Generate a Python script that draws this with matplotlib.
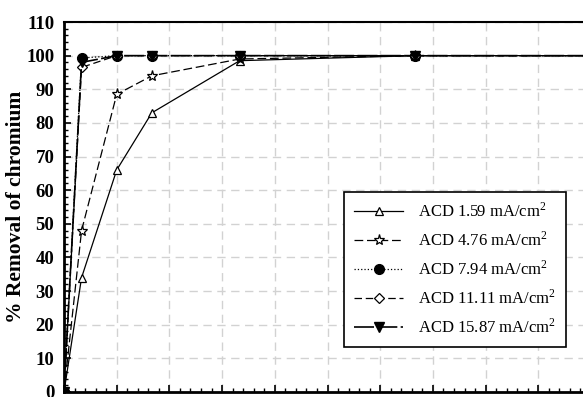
import numpy as np
import matplotlib
matplotlib.use("Agg")
import matplotlib.pyplot as plt
from matplotlib.ticker import MultipleLocator

# temps (min) et % d'elimination du chrome
temps = [0, 10, 30, 50, 100, 200, 400]
acd_159 = [0, 34, 66, 83, 98.5, 100, 100]
acd_476 = [0, 48, 88.5, 94, 99, 100, 100]
acd_794 = [0, 99.3, 100, 100, 100, 100, 100]
acd_1111 = [0, 96.5, 100, 100, 100, 100, 100]
acd_1587 = [0, 98, 100, 100, 100, 100, 100]

labels = ["ACD 1.59 mA/cm$^\\mathregular{2}$", "ACD 4.76 mA/cm$^\\mathregular{2}$",
          "ACD 7.94 mA/cm$^\\mathregular{2}$", "ACD 11.11 mA/cm$^\\mathregular{2}$",
          "ACD 15.87 mA/cm$^\\mathregular{2}$"]

plt.rcParams['font.family'] = ['Liberation Serif', 'DejaVu Serif']
plt.rcParams['mathtext.fontset'] = 'stix'

fig = plt.figure(figsize=(5.83, 3.97), dpi=100)
ax = fig.add_axes([64 / 583, 5 / 397, 519 / 583, 370 / 397])

ax.plot(temps, acd_159, color='k', lw=0.9, ls='-', marker='^', ms=6,
        mfc='white', mec='k', mew=0.9, label=labels[0])
ax.plot(temps, acd_476, color='k', lw=0.9, ls=(0, (7, 3)), marker='*', ms=8,
        mfc='white', mec='k', mew=0.9, label=labels[1])
ax.plot(temps, acd_794, color='k', lw=0.9, ls=':', marker='o', ms=7,
        mfc='k', mec='k', label=labels[2])
ax.plot(temps, acd_1111, color='k', lw=0.9, ls=(0, (6, 3)), marker='D', ms=5.5,
        mfc='white', mec='k', mew=0.9, label=labels[3])
ax.plot(temps, acd_1587, color='k', lw=1.2, ls=(0, (12, 2)), marker='v', ms=6.5,
        mfc='k', mec='k', label=labels[4])

ax.set_xlim(0, 519 / 52.7 * 30)
ax.set_ylim(0, 110)
ax.xaxis.set_major_locator(MultipleLocator(30))
ax.xaxis.set_minor_locator(MultipleLocator(6))
ax.yaxis.set_major_locator(MultipleLocator(10))
ax.yaxis.set_minor_locator(MultipleLocator(2))
ax.tick_params(which='both', direction='in', colors='k')
ax.tick_params(which='major', length=5, width=1.2)
ax.tick_params(which='minor', length=3, width=1)
ax.tick_params(axis='x', labelbottom=False)
ax.tick_params(axis='y', labelsize=13.5, pad=7)
for lab in ax.get_yticklabels():
    lab.set_fontweight('bold')

ax.grid(True, which='major', color='#d2d2d2', ls=(0, (6, 4)), lw=1)
ax.set_axisbelow(True)

ax.spines['right'].set_visible(False)
ax.spines['left'].set_linewidth(2)
ax.spines['bottom'].set_linewidth(2)
ax.spines['top'].set_linewidth(1.5)

ax.set_ylabel('% Removal of chromium', fontsize=15.5, fontweight='bold', labelpad=0)

leg = ax.legend(loc='upper left', bbox_to_anchor=(336 / 583, 1 - 184 / 397),
                bbox_transform=fig.transFigure, fontsize=12, frameon=True,
                fancybox=False, edgecolor='k', handlelength=2.9, labelspacing=0.62,
                borderpad=0.6, handletextpad=0.9)
leg.get_frame().set_linewidth(1.2)
leg.get_frame().set_alpha(1)

fig.savefig('out.png', dpi=100)
